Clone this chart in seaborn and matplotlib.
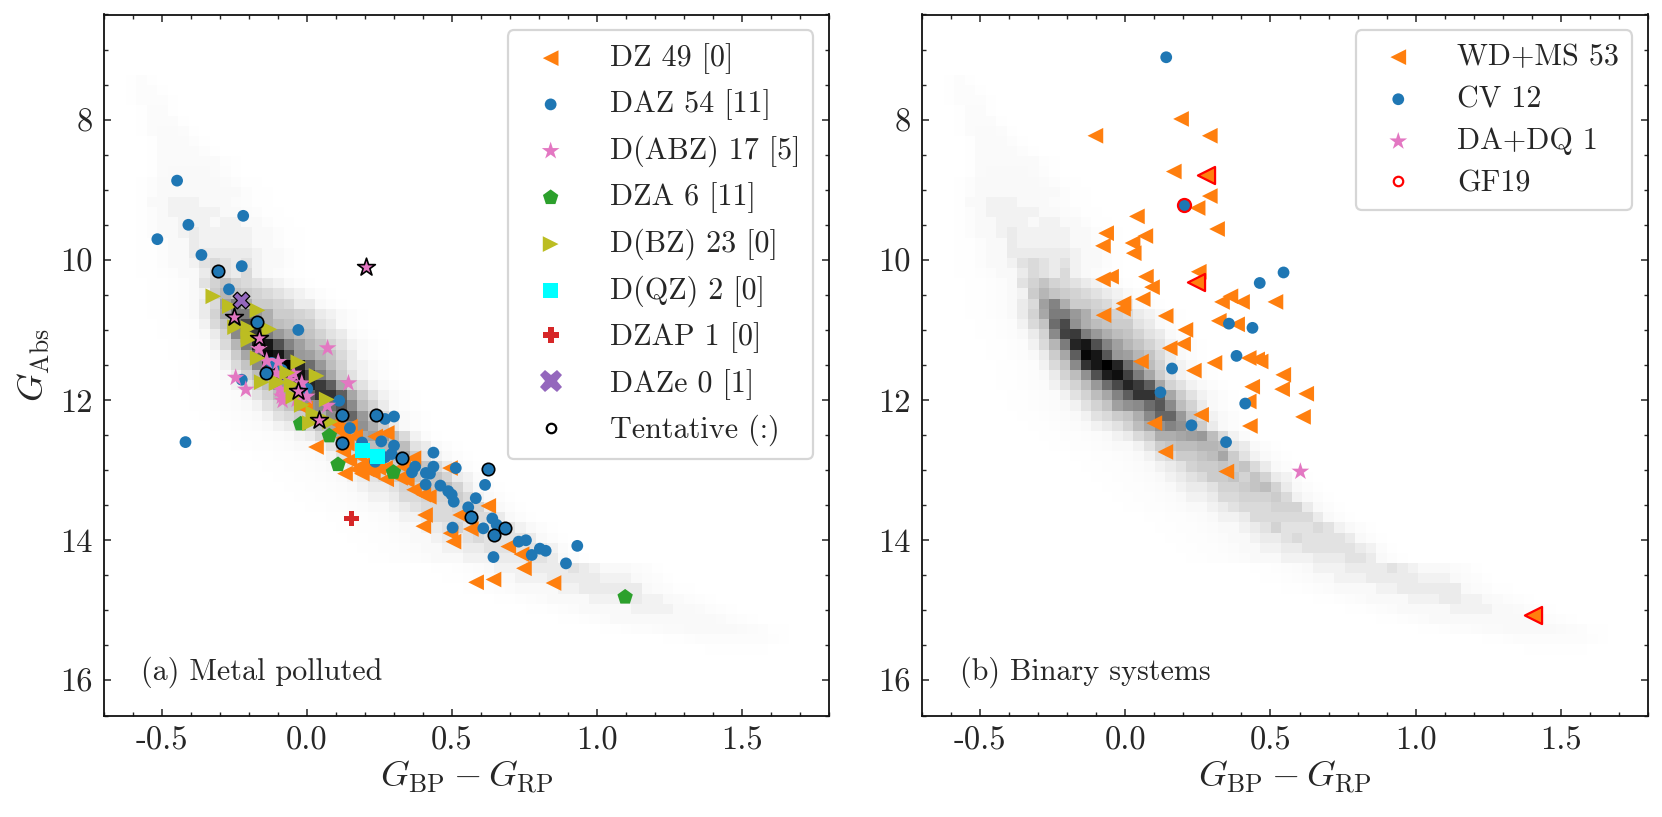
import matplotlib
matplotlib.use("Agg")
import matplotlib.pyplot as plt
from matplotlib.colors import LinearSegmentedColormap
from matplotlib.lines import Line2D
from matplotlib.ticker import MultipleLocator
import numpy as np
import seaborn as sns

# Metal polluted panel
dz_x = [0.031, 0.131, 0.189, 0.227, 0.273, 0.275, 0.235, 0.125, 0.146, 0.194, 0.246, 0.269, 0.332, 0.344,
        0.369, 0.401, 0.367, 0.493, 0.407, 0.401, 0.528, 0.565, 0.495, 0.505, 0.625, 0.694, 0.74, 0.748,
        0.583, 0.643, 0.85, 0.108, 0.148, 0.125, 0.166, 0.171, -0.007, 0.206, 0.137, 0.321, 0.18, 0.22,
        0.10, 0.42]
dz_y = [12.67, 13.05, 13.05, 13.03, 13.13, 12.47, 12.52, 12.73, 12.86, 12.92, 12.97, 12.97, 12.95, 13.14,
        13.28, 13.35, 12.83, 12.97, 13.64, 13.80, 13.64, 13.84, 13.90, 14.02, 13.51, 14.09, 14.2, 14.40,
        14.60, 14.56, 14.61, 12.43, 12.38, 12.54, 12.52, 12.99, 12.12, 12.99, 12.62, 13.11, 12.8, 12.92,
        12.33, 13.38]
daz_x = [-0.516, -0.409, -0.220, -0.364, -0.225, -0.269, -0.030, -0.225, 0.001, 0.111, 0.148, -0.448, -0.419,
         -0.122, -0.087, 0.269, 0.300, 0.190, 0.256, 0.300, 0.292, 0.235, 0.269, 0.436, 0.436, 0.373, 0.362,
         0.41, 0.424, 0.513, 0.409, 0.46, 0.487, 0.499, 0.506, 0.614, 0.582, 0.556, 0.502, 0.608, 0.639,
         0.654, 0.643, 0.730, 0.755, 0.775, 0.803, 0.823, 0.893, 0.932]
daz_y = [9.705, 9.50, 9.372, 9.93, 10.09, 10.42, 11.0, 11.71, 11.84, 12.01, 12.40, 8.87, 12.6,
         11.47, 11.57, 12.27, 12.235, 12.606, 12.59, 12.65, 12.77, 12.88, 12.815, 12.75, 12.95, 12.95, 13.03,
         13.04, 13.05, 12.97, 13.205, 13.22, 13.30, 13.35, 13.45, 13.21, 13.40, 13.53, 13.82, 13.83, 13.69,
         13.78, 14.24, 14.02, 14.0, 14.21, 14.12, 14.15, 14.33, 14.08]
daz_tent_x = [-0.306, -0.171, -0.143, 0.12, 0.239, 0.121, 0.328, 0.623, 0.564, 0.682, 0.645]
daz_tent_y = [10.16, 10.89, 11.62, 12.21, 12.22, 12.61, 12.82, 12.99, 13.67, 13.83, 13.93]
abz_x = [0.071, 0.143, -0.246, -0.211, -0.166, -0.139, -0.099, -0.047, -0.018, -0.093, -0.084, -0.087,
         -0.105, -0.001, 0.070, -0.036, -0.06]
abz_y = [11.26, 11.76, 11.68, 11.85, 11.27, 11.44, 11.455, 11.62, 11.76, 11.85, 12.01, 11.95,
         11.62, 11.95, 12.08, 11.997, 11.72]
abz_tent_x = [0.204, -0.251, -0.166, -0.030, 0.042]
abz_tent_y = [10.10, 10.81, 11.11, 11.87, 12.28]
dza_x = [-0.022, 0.077, 0.107, 0.298, 1.097]
dza_y = [12.34, 12.51, 12.92, 13.03, 14.81]
dbz_x = [-0.323, -0.266, -0.171, -0.248, -0.202, -0.202, -0.202, -0.13, -0.17, -0.030, -0.068, 0.033, -0.156,
         -0.099, -0.053, -0.047, 0.068, -0.018, 0.022, 0.01, 0.08, -0.105, 0.027]
dbz_y = [10.52, 10.66, 10.72, 10.96, 10.975, 11.14, 11.07, 10.99, 11.40, 11.46, 11.61, 11.655, 11.745,
         11.745, 11.78, 11.95, 11.99, 12.07, 12.19, 12.33, 12.31, 11.76, 12.21]
dqz_x = [0.190, 0.243]
dqz_y = [12.72, 12.805]
dzap_x = [0.153]
dzap_y = [13.69]
daze_x = [-0.229]
daze_y = [10.575]

# Binary systems panel
wdms_x = [0.192, -0.103, 0.291, 0.167, 0.291, 0.249, 0.040, 0.316, -0.066, 0.069, -0.077, 0.025, 0.029, 0.253,
          -0.049, -0.077, 0.071, 0.092, 0.060, -0.006, -0.008, -0.075, 0.139, 0.207, 0.199, 0.153, 0.054,
          0.236, 0.307, 0.261, 0.100, 0.138, 0.333, 0.362, 0.402, 0.322, 0.385, 0.425, 0.454, 0.466, 0.437,
          0.425, 0.429, 0.517, 0.544, 0.540, 0.623, 0.612, 0.348]
wdms_y = [7.99, 8.23, 8.23, 8.74, 9.09, 9.26, 9.38, 9.56, 9.62, 9.66, 9.80, 9.76, 9.905, 10.17,
          10.24, 10.28, 10.24, 10.39, 10.56, 10.62, 10.70, 10.79, 10.80, 10.999, 11.20, 11.26, 11.45,
          11.58, 11.47, 12.21, 12.33, 12.74, 10.60, 10.52, 10.60, 10.87, 10.92, 11.40, 11.42, 11.45, 11.81,
          12.02, 12.37, 10.60, 11.64, 11.845, 11.91, 12.24, 13.02]
wdms_gf_x = [0.279, 0.245, 1.403]
wdms_gf_y = [8.79, 10.32, 15.06]
cv_x = [0.141, 0.161, 0.121, 0.228, 0.347, 0.463, 0.357, 0.438, 0.383, 0.413, 0.545]
cv_y = [7.11, 11.55, 11.89, 12.36, 12.60, 10.33, 10.91, 10.97, 11.37, 12.05, 10.18]
cv_gf_x = [0.202]
cv_gf_y = [9.215]
dadq_x = [0.603]
dadq_y = [13.02]

density_first_row = 6
density_rows = [
    (7, [.2, .5, .2]),
    (7, [.2, .5, .5, .2]),
    (7, [.2, .6, .6, .6, .2]),
    (8, [.3, .7, .7, .3]),
    (8, [.3, .7, .7, .7, .3]),
    (8, [.3, .7, .8, .8, .7, .3]),
    (9, [.3, .8, .8, .8, .5, .2]),
    (9, [.3, .8, .8, .8, .8, .5, .2]),
    (9, [.3, .8, .8, .8, .8, .8, .8, .4, .2]),
    (9, [.3, .8, 1, 1, 1, 1, .8, .5, .2]),
    (8, [.2, .5, 1, 1, 1, 1, 1, 1, .8, .5, .2, .2]),
    (8, [.2, .6, 1, 1, 1, 1, 1, 1, 1, 1, .6, .3, .2]),
    (8, [.3, 1, 1, 2, 2, 2, 1, 1, 1, .7, .5, .3, .2]),
    (8, [.2, .5, 1, 2, 2, 2, 2, 2, 1, 1, .7, .5, .3, .2]),
    (8, [.2, .5, 1, 1, 2, 2, 2, 1, 2, 2, 1, 1, .6, .3, .2]),
    (8, [.2, .5, 1, 1, 2, 3, 2, 2, 2, 2, 2, 1, 1, .6, .3, .2]),
    (8, [.2, .3, .5, 1, 1, 3, 2, 2, 2, 2, 2, 1, 1, .6, .3, .2]),
    (8, [.2, .3, .5, 1, 1, 3, 3, 3, 3, 3, 3, 2, 1, 1, .6, .3]),
    (8, [.2, .3, .5, 1, 1, 2, 4, 5, 4, 3, 4, 2, 1, 1, .6, .3]),
    (8, [.2, .3, .4, .6, 1, 1, 3, 5, 4, 3, 5, 2, 1, .7, .4, .2]),
    (9, [.2, .3, .4, .6, 1, 4, 6, 8, 6, 5, 4, 3, 2, 1, .5, .2]),
    (9, [.2, .3, .4, .6, 1, 2, 7, 10, 8, 7, 6, 5, 4, 3, 2, 1, .5, .2]),
    (9, [.2, .3, .4, .6, 1, 3, 5, 13, 17, 11, 7, 7, 6, 5, 3, 3, 1, .5, .2]),
    (9, [.2, .3, .4, .6, 1, 3, 6, 12, 18, 18, 14, 11, 7, 7, 6, 5, 3, 2, 1, .5, .2]),
    (10, [.2, .3, .4, .6, 2, 5, 8, 20, 25, 15, 11, 9, 8, 7, 7, 4, 3, 1, .5, .2]),
    (10, [.2, .3, .4, .6, 1, 3, 6, 16, 26, 27, 18, 14, 11, 9, 8, 6, 4, 3, 1, .5, .2]),
    (11, [.2, .3, .4, .6, 2, 5, 10, 18, 30, 32, 24, 17, 13, 10, 8, 6, 4, 2, 1, .5, .2]),
    (11, [.2, .3, .4, .6, 1, 3, 7, 12, 22, 34, 32, 23, 14, 13, 10, 8, 5, 3, 1, .5, .2]),
    (12, [.2, .3, .4, .6, 2, 5, 8, 16, 28, 32, 35, 30, 20, 14, 9, 6, 3, 2, 1, .5, .2]),
    (12, [.2, .3, .4, .6, 1, 3, 6, 9, 15, 24, 31, 33, 26, 18, 12, 7, 4, 2, 1, .5, .2]),
    (12, [.2, .3, .4, .5, .7, 2, 4, 6, 9, 14, 20, 25, 30, 27, 22, 12, 6, 4, 2, 1, .5, .2]),
    (13, [.2, .3, .4, .5, .7, 2, 4, 6, 9, 12, 17, 22, 28, 28, 22, 12, 7, 4, 2, 1, .5, .2]),
    (13, [.2, .3, .4, .5, .7, 1, 2, 4, 6, 8, 13, 15, 16, 20, 23, 16, 9, 6, 3, 1, .5, .2]),
    (14, [.2, .3, .4, .5, .7, 1, 2, 4, 5, 7, 8, 11, 16, 21, 21, 14, 8, 5, 2, 1, .5, .2]),
    (15, [.2, .3, .4, .5, .7, 1, 2, 3, 4, 6, 9, 12, 15, 17, 15, 11, 7, 3, 1, .5, .2]),
    (16, [.2, .3, .4, .4, .5, .7, 1, 2, 3, 5, 7, 11, 11, 12, 13, 14, 9, 5, 2, .7, .3]),
    (17, [.2, .3, .4, .4, .5, .7, 1, 1, 2, 4, 7, 8, 9, 9, 10, 10, 9, 4, 3, 1, .5, .2]),
    (19, [.2, .3, .4, .4, .5, .7, 1, 2, 4, 5, 7, 7, 8, 9, 12, 7, 4, 2, 1, .5, .2]),
    (20, [.2, .3, .4, .4, .5, .7, 1, 2, 3, 4, 6, 7, 7, 8, 7, 8, 5, 3, 1, .5, .2]),
    (21, [.2, .3, .4, .4, .5, .7, 1, 2, 3, 4, 5, 7, 7, 8, 6, 8, 6, 3, 2, .7, .3]),
    (22, [.2, .3, .4, .4, .5, .7, 1, 2, 3, 3, 4, 6, 6, 7, 8, 9, 6, 3, 1, .5, .2]),
    (23, [.2, .3, .4, .4, .5, .7, 1, 2, 2, 3, 5, 5, 6, 6, 6, 7, 5, 2, 1, .5, .2]),
    (24, [.2, .3, .4, .4, .5, .7, 1, 1, 2, 3, 4, 5, 5, 5, 6, 6, 6, 3, 1, .5, .2]),
    (26, [.2, .3, .4, .4, .5, .7, 1, 2, 2, 3, 5, 5, 5, 5, 5, 5, 3, 1, .5, .2]),
    (27, [.2, .3, .4, .4, .5, .7, 1, 1, 2, 3, 4, 6, 4, 4, 4, 5, 4, 2, 1, .5, .2]),
    (28, [.2, .3, .4, .4, .5, .7, 1, 1, 2, 3, 3, 4, 5, 4, 4, 4, 4, 3, 1, .5, .2]),
    (29, [.2, .3, .4, .4, .5, .7, 1, 1, 2, 2, 3, 3, 4, 4, 4, 4, 4, 3, 2, .7, .3]),
    (30, [.2, .3, .4, .4, .5, .7, 1, 1, 1, 2, 2, 2, 3, 3, 3, 4, 4, 3, 1, .5, .2]),
    (36, [.2, .3, .4, .5, .7, 1, 2, 2, 2, 3, 3, 3, 3, 4, 3, 2, 1, 1, 1, .7, .5, .2]),
    (37, [.2, .3, .4, .5, .7, 1, 1, 2, 2, 2, 3, 3, 3, 3, 3, 2, 2, 2, 1, .7, .5, .2]),
    (39, [.2, .3, .4, .5, .7, 1, 1, 1, 1, 2, 2, 3, 3, 3, 3, 3, 3, 1, .7, .5, .3, .2]),
    (42, [.2, .3, .4, .5, .7, 1, 1, 1, 1, 2, 2, 2, 3, 3, 2, 2, 1, .8, .6, .4, .2]),
    (45, [.2, .3, .4, .5, .7, 1, 1, 1, 1, 1, 2, 2, 2, 2, 1, 1, .8, .6, .4, .2]),
    (48, [.2, .3, .4, .5, .7, 1, 1, 1, 1, 1, 1, 1, 1, 1, .9, .8, .6, .4, .2]),
    (52, [.2, .3, .4, .5, .6, .7, .8, .8, 1, 1, 1, 1, .9, .8, .7, .5, .3, .2]),
    (58, [.2, .3, .4, .5, .6, .6, .6, .6, .5, .5, .4, .2]),
    (62, [.2, .3, .3, .3, .3, .2]),
]

x_ticks = [-0.5, 0.0, 0.5, 1.0, 1.5]
x_tick_labels = ["-0.5", "0.0", "0.5", "1.0", "1.5"]
y_ticks = [8, 10, 12, 14, 16]

ORANGE = "#ff7f0e"
BLUE = "#1f77b4"
PINK = "#e377c2"
GREEN = "#2ca02c"
OLIVE = "#bcbd22"
RED = "#d62728"
PURPLE = "#9467bd"

sns.set_style("ticks")
plt.rcParams["font.family"] = ["cmr10", "DejaVu Serif"]
plt.rcParams["mathtext.fontset"] = "cm"
plt.rcParams["axes.unicode_minus"] = False
plt.rcParams["axes.formatter.use_mathtext"] = True
plt.rcParams["legend.fontsize"] = 10.85

FONT = 10.85
W, H = 1662, 817

fig = plt.figure(figsize=(W / 200, H / 200), dpi=200)
ax1 = fig.add_axes([104 / W, 1 - 715.5 / H, 725 / W, 701 / H])
ax2 = fig.add_axes([922 / W, 1 - 715.5 / H, 726 / W, 701 / H])

# Flatten the density table into one weighted point per cell
cell_x, cell_y, cell_w = [], [], []
for i, (first_col, levels) in enumerate(density_rows):
    for j, level in enumerate(levels):
        cell_x.append(-0.862 + 0.03634 * (first_col + j))
        cell_y.append(6.564 + 0.14508 * (density_first_row + i))
        cell_w.append(level)

# Grey map: very pale at the low end, straight black ramp above that
grey_map = LinearSegmentedColormap.from_list(
    "grey_soft",
    [(0, (1, 1, 1)), (0.5 / 35, (.99, .99, .99)), (1 / 35, (.975, .975, .975)), (2 / 35, (.95, .95, .95)),
     (3 / 35, (.92, .92, .92)), (5 / 35, (.855, .855, .855)), (1, (0, 0, 0))],
    N=2048,
)


def draw_density(ax):
    sns.histplot(x=np.array(cell_x), y=np.array(cell_y), weights=np.array(cell_w), bins=(75, 69),
                 binrange=((-0.8802, 1.845), (6.4915, 16.502)), cmap=grey_map, vmin=0, vmax=35, ax=ax, zorder=1)


def points(ax, x, y, marker, color, size, edge=None, lw=0.0, label=None):
    sns.scatterplot(x=x, y=y, marker=marker, color=color, s=size, edgecolor=edge if edge else "none",
                    linewidth=lw, label=label, ax=ax, legend=False, zorder=3)


def style_axes(ax):
    ax.set_xlim(-0.7, 1.8)
    ax.set_ylim(16.5, 6.5)
    ax.set_xticks(x_ticks)
    ax.set_xticklabels(x_tick_labels)
    ax.set_yticks(y_ticks)
    ax.set_yticklabels([str(t) for t in y_ticks])
    ax.xaxis.set_minor_locator(MultipleLocator(0.1))
    ax.yaxis.set_minor_locator(MultipleLocator(0.5))
    ax.tick_params(which="major", direction="in", top=True, right=True, length=2.5, width=0.55,
                   labelsize=11.7, pad=4)
    ax.tick_params(which="minor", direction="in", top=True, right=True, length=1.3, width=0.5)
    for spine in ax.spines.values():
        spine.set_linewidth(0.65)
        spine.set_color("#111111")
    ax.set_xlabel(r"$G_{\rm BP} - G_{\rm RP}$", fontsize=13.2, labelpad=1)


def make_legend(ax, handles, labels, spacing):
    leg = ax.legend(handles, labels, loc="upper right", fontsize=FONT, borderaxespad=0.53, borderpad=0.42,
                    handlelength=1.97, handletextpad=0.98, labelspacing=spacing, frameon=True, fancybox=True,
                    framealpha=0.8, edgecolor="0.8", scatterpoints=1)
    leg.get_frame().set_linewidth(0.8)


# Left panel
draw_density(ax1)
points(ax1, dz_x, dz_y, "<", ORANGE, 32, label="DZ 49 [0]")
points(ax1, daz_x, daz_y, "o", BLUE, 18, label="DAZ 54 [11]")
points(ax1, abz_x, abz_y, "*", PINK, 45, label="D(ABZ) 17 [5]")
points(ax1, dza_x, dza_y, "p", GREEN, 34, label="DZA 6 [11]")
points(ax1, dbz_x, dbz_y, ">", OLIVE, 32, label="D(BZ) 23 [0]")
points(ax1, dqz_x, dqz_y, "s", "cyan", 29, label="D(QZ) 2 [0]")
points(ax1, dzap_x, dzap_y, "P", RED, 32)
points(ax1, daze_x, daze_y, "X", PURPLE, 36, edge="black", lw=0.45)
points(ax1, daz_tent_x, daz_tent_y, "o", BLUE, 20, edge="black", lw=0.6)
points(ax1, abz_tent_x, abz_tent_y, "*", PINK, 45, edge="black", lw=0.6)
style_axes(ax1)
ax1.set_ylabel(r"$G_{\rm Abs}$", fontsize=13.2, labelpad=3)
handles, labels = ax1.get_legend_handles_labels()
handles += [
    Line2D([], [], linestyle="none", marker="P", markersize=6, markerfacecolor=RED, markeredgewidth=0),
    Line2D([], [], linestyle="none", marker="X", markersize=8.2, markerfacecolor=PURPLE, markeredgewidth=0),
    Line2D([], [], linestyle="none", marker="o", markersize=3.4, markerfacecolor="white",
           markeredgecolor="black", markeredgewidth=0.8),
]
labels += ["DZAP 1 [0]", "DAZe 0 [1]", "Tentative (:)"]
make_legend(ax1, handles, labels, 0.51)
ax1.text(0.051, 0.062, "(a) Metal polluted", transform=ax1.transAxes, ha="left", va="center", fontsize=FONT)

# Right panel
draw_density(ax2)
points(ax2, wdms_x, wdms_y, "<", ORANGE, 32, label="WD+MS 53")
points(ax2, cv_x, cv_y, "o", BLUE, 18, label="CV 12")
points(ax2, dadq_x, dadq_y, "*", PINK, 45, label="DA+DQ 1")
points(ax2, wdms_gf_x, wdms_gf_y, "<", ORANGE, 38, edge="red", lw=0.8)
points(ax2, cv_gf_x, cv_gf_y, "o", BLUE, 22, edge="red", lw=0.8)
style_axes(ax2)
ax2.set_ylabel("")
handles, labels = ax2.get_legend_handles_labels()
handles.append(Line2D([], [], linestyle="none", marker="o", markersize=3.4, markerfacecolor="white",
                      markeredgecolor="red", markeredgewidth=0.8))
labels.append("GF19")
make_legend(ax2, handles, labels, 0.47)
ax2.text(0.052, 0.062, "(b) Binary systems", transform=ax2.transAxes, ha="left", va="center", fontsize=FONT)

fig.savefig("out.png", dpi=200)
